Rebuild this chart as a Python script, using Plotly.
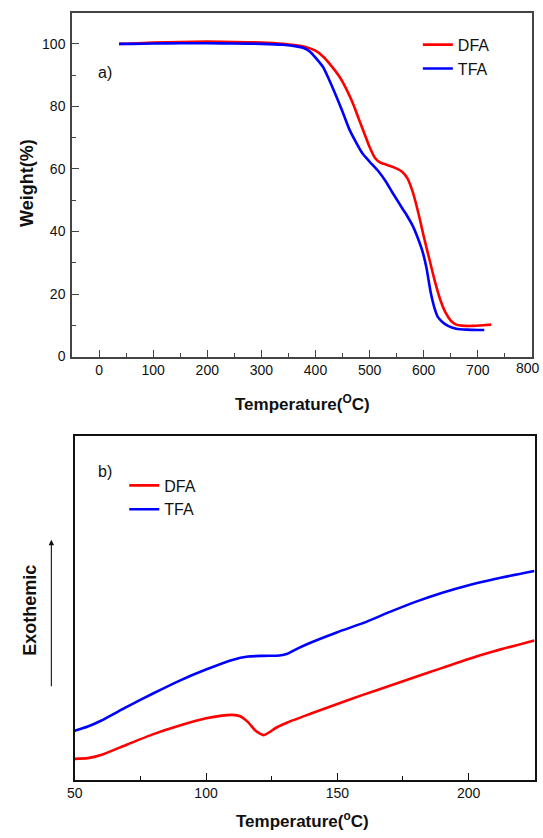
import plotly.graph_objects as go

# ---- TGA (a): temperature (°C) vs weight (%) ----
tga_dfa_t = [37, 60, 100, 150, 200, 250, 300, 340, 365, 380, 400, 415, 430, 445, 460, 470,
             480, 490, 500, 510, 520, 530, 545, 560, 570, 580, 590, 600, 610, 620, 630, 640,
             650, 660, 670, 690, 710, 725]
tga_dfa_w = [100, 100.1, 100.4, 100.6, 100.7, 100.6, 100.4, 100, 99.5, 99.1, 97.8, 95.8, 92.8,
             89.3, 84.5, 80.6, 76.0, 71.5, 67.0, 63.5, 62.0, 61.4, 60.5, 59.1, 57.0, 52.5, 46.0,
             38.5, 31.5, 24.5, 18.5, 14.2, 11.5, 10.2, 9.9, 9.8, 10.0, 10.2]

tga_tfa_t = [37, 60, 100, 150, 200, 250, 300, 340, 365, 378, 390, 400, 414, 425, 438, 450, 462,
             475, 487, 500, 517, 530, 541, 550, 560, 570, 580, 590, 598, 605, 613, 620, 626,
             635, 645, 660, 680, 700, 712]
tga_tfa_w = [100, 100, 100.1, 100.2, 100.2, 100.1, 100, 99.7, 99.2, 98.7, 97.5, 95.6, 92.6,
             88.6, 83.4, 78.3, 72.9, 68.5, 64.9, 62.3, 59.1, 56.0, 52.8, 50.3, 47.5, 44.8, 41.7,
             37.5, 33.5, 28.5, 20.5, 15.5, 12.7, 11.0, 9.8, 8.9, 8.6, 8.5, 8.5]

# ---- DSC (b): temperature (°C) vs heat flow (arbitrary units, exo up) ----
dsc_dfa_t = [50, 55, 60, 70, 80, 90, 100, 106, 110, 113, 116, 119, 122, 124, 127, 131, 140,
             150, 160, 170, 180, 190, 200, 210, 225]
dsc_dfa_v = [6.1, 6.3, 7.2, 10.3, 13.3, 15.8, 17.9, 18.7, 18.9, 18.5, 16.8, 14.2, 13.0, 13.8,
             15.3, 16.7, 19.3, 22.1, 24.8, 27.4, 30.0, 32.6, 35.2, 37.5, 40.6]

dsc_tfa_t = [50, 55, 60, 70, 80, 90, 100, 110, 116, 122, 128, 131, 135, 140, 150, 160, 170,
             180, 190, 200, 210, 225]
dsc_tfa_v = [14.3, 15.5, 17.2, 21.3, 25.2, 28.9, 32.1, 34.9, 35.9, 36.1, 36.2, 36.7, 38.3,
             40.0, 43.0, 45.7, 48.9, 51.9, 54.5, 56.7, 58.5, 60.8]

tga_xticks = [0, 100, 200, 300, 400, 500, 600, 700, 800]
tga_yticks = [0, 20, 40, 60, 80, 100]
dsc_xticks = [50, 100, 150, 200]

RED = "#ff0000"
BLUE = "#0000ff"
W, H = 543, 838
FONT = "Liberation Sans, Arial, sans-serif"


def px_x(p):
    return p / W


def px_y(p):
    return 1 - p / H


fig = go.Figure()

line_kw = dict(mode="lines", line_shape="spline")
series = [
    (tga_dfa_t, tga_dfa_w, "DFA", RED, "x", "y", "legend"),
    (tga_tfa_t, tga_tfa_w, "TFA", BLUE, "x", "y", "legend"),
    (dsc_dfa_t, dsc_dfa_v, "DFA", RED, "x2", "y2", "legend2"),
    (dsc_tfa_t, dsc_tfa_v, "TFA", BLUE, "x2", "y2", "legend2"),
]
for xs, ys, name, color, xa, ya, lg in series:
    fig.add_trace(go.Scatter(x=xs, y=ys, name=name,
                             line=dict(color=color, width=2.6, smoothing=0.6),
                             xaxis=xa, yaxis=ya, legend=lg, **line_kw))

tick_font = dict(family=FONT, size=14, color="#111")
frame_top = dict(showline=True, mirror=True, linecolor="#444", linewidth=1.6, showgrid=False,
                 zeroline=False, ticks="inside", ticklen=7, tickwidth=1.3, tickcolor="#444",
                 tickfont=tick_font)
frame_bot = dict(frame_top, linecolor="#111", tickcolor="#111")

# the last TGA tick sits on the figure edge, so its label is placed right-aligned below
tga_xtext = [str(v) for v in tga_xticks[:-1]] + [""]

fig.update_layout(
    width=W, height=H,
    margin=dict(l=0, r=0, t=0, b=0),
    paper_bgcolor="white", plot_bgcolor="white",
    font=dict(family=FONT, color="#111"),
    xaxis=dict(frame_top, domain=[px_x(65), px_x(532)], range=[-50, 800.5], tickvals=tga_xticks,
               ticktext=tga_xtext, anchor="y",
               minor=dict(dtick=50, ticks="inside", ticklen=4, tickwidth=1.2, tickcolor="#444")),
    yaxis=dict(frame_top, domain=[px_y(360), px_y(12.7)], range=[0, 110], tickvals=tga_yticks,
               anchor="x", ticklabelstandoff=2,
               minor=dict(dtick=10, ticks="inside", ticklen=4, tickwidth=1.2, tickcolor="#444")),
    xaxis2=dict(frame_bot, domain=[px_x(67.7), px_x(534.7)], range=[50, 225.2], tickvals=dsc_xticks,
                anchor="y2",
                minor=dict(dtick=25, ticks="inside", ticklen=4, tickwidth=1.2, tickcolor="#111")),
    yaxis2=dict(frame_bot, domain=[px_y(787.3), px_y(440.7)], range=[0, 100], ticks="",
                showticklabels=False, anchor="x2"),
    legend=dict(x=px_x(416), y=px_y(28), xanchor="left", yanchor="top", bgcolor="rgba(0,0,0,0)",
                font=dict(family=FONT, size=16, color="#111"), tracegroupgap=0, itemwidth=30),
    legend2=dict(x=px_x(118), y=px_y(473), xanchor="left", yanchor="top", bgcolor="rgba(0,0,0,0)",
                 font=dict(family=FONT, size=16, color="#111"), tracegroupgap=0, itemwidth=30),
    showlegend=True,
)

title_font = dict(family=FONT, size=17, color="#111")
side_font = dict(family=FONT, size=18, color="#111")
annotations = [
    dict(text="a)", x=px_x(98), y=px_y(73), font=dict(family=FONT, size=16, color="#111")),
    dict(text="b)", x=px_x(98), y=px_y(476), font=dict(family=FONT, size=16, color="#111")),
    dict(text="<b>Temperature(<sup>O</sup>C)</b>", x=px_x(299), y=px_y(407), font=title_font),
    dict(text="<b>Temperature(<sup>o</sup>C)</b>", x=px_x(299), y=px_y(828), font=title_font),
    dict(text="<b>Weight(%)</b>", x=px_x(20), y=px_y(185), textangle=-90, font=side_font),
    dict(text="<b>Exothemic</b>", x=px_x(22), y=px_y(616), textangle=-90, font=side_font),
]
for a in annotations:
    fig.add_annotation(xref="paper", yref="paper", showarrow=False, xanchor="center",
                       yanchor="middle", **a)

# label for the 800 °C tick, kept inside the figure's right edge
fig.add_annotation(xref="paper", yref="paper", x=px_x(542), y=px_y(372), text=str(tga_xticks[-1]),
                   showarrow=False, xanchor="right", yanchor="middle", font=tick_font)

# upward "exothermic" arrow beside the DSC axis
fig.add_annotation(xref="paper", yref="paper", x=px_x(44), y=px_y(545), text=" ",
                   showarrow=True, ax=0, ay=155, arrowhead=2, arrowsize=1,
                   arrowwidth=1.1, arrowcolor="#111")

fig.write_html("out.html")
